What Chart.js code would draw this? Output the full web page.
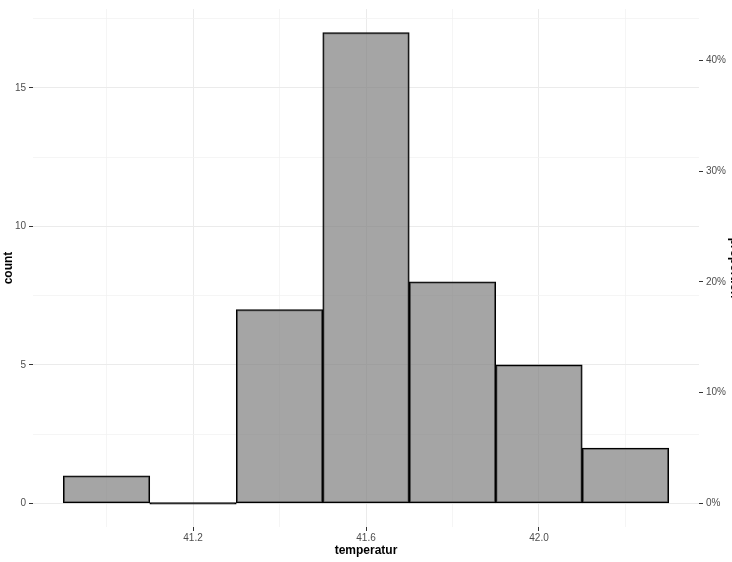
<!DOCTYPE html>
<html>
<head>
<meta charset="utf-8">
<script src="https://cdn.jsdelivr.net/npm/chart.js@4"></script>
<style>
  body { margin: 0; background: #fff; }
  #wrap { width: 732px; height: 562px; }
</style>
</head>
<body>
<div id="wrap"><canvas id="histChart" width="732" height="562"></canvas></div>
<script>
// histogram bins (binwidth 0.2) and counts
const binCenters = [41.0, 41.2, 41.4, 41.6, 41.8, 42.0, 42.2];
const counts = [1, 0, 7, 17, 8, 5, 2];
const total = counts.reduce((a, b) => a + b, 0); // 40

// axis breaks
const xMajor = [41.2, 41.6, 42.0];
const xMinor = [41.0, 41.4, 41.8, 42.2];
const countMajor = [0, 5, 10, 15];
const countMinor = [2.5, 7.5, 12.5, 17.5];
const propTicks = [0, 0.1, 0.2, 0.3, 0.4];

const xMin = 40.83, xMax = 42.37;
const yMin = -0.85, yMax = 17.85;

Chart.defaults.font.family = "'Liberation Sans', Arial, sans-serif";
Chart.defaults.font.size = 10;
Chart.defaults.color = '#4D4D4D';

const titleFont = { family: "'Liberation Sans', Arial, sans-serif", size: 12, weight: 'bold' };

function gridColor(isMajor) {
  return isMajor ? '#EBEBEB' : '#F3F3F3';
}

const ctx = document.getElementById('histChart').getContext('2d');
const histChart = new Chart(ctx, {
  type: 'bar',
  data: {
    datasets: [{
      data: binCenters.map((c, i) => ({ x: c, y: counts[i] })),
      backgroundColor: (c) => (c.raw && c.raw.y === 0) ? '#000000' : 'rgba(127,127,127,0.7)',
      borderColor: '#000000',
      borderWidth: 1.3,
      borderSkipped: false,
      minBarLength: 1.5,
      barPercentage: 1,
      categoryPercentage: 1,
      yAxisID: 'y'
    }]
  },
  options: {
    responsive: false,
    animation: false,
    layout: { padding: { top: 7, left: 0, right: 0, bottom: 0 } },
    plugins: { legend: { display: false }, tooltip: { enabled: false } },
    scales: {
      x: {
        type: 'linear',
        min: xMin,
        max: xMax,
        offset: false,
        afterBuildTicks: (scale) => {
          scale.ticks = xMinor.concat(xMajor).sort((a, b) => a - b).map(v => ({ value: v }));
        },
        afterFit: (scale) => { scale.height = 35; },
        ticks: {
          autoSkip: false,
          maxRotation: 0,
          padding: 1,
          callback: (v) => xMajor.includes(v) ? v.toFixed(1) : ''
        },
        grid: {
          offset: false,
          color: (c) => gridColor(c.tick && xMajor.includes(c.tick.value)),
          lineWidth: (c) => (c.tick && xMajor.includes(c.tick.value)) ? 1 : 0.8,
          tickColor: (c) => (c.tick && xMajor.includes(c.tick.value)) ? '#333333' : 'rgba(0,0,0,0)',
          tickLength: 4
        },
        border: { display: false },
        title: {
          display: true,
          text: 'temperatur',
          color: '#000000',
          font: titleFont,
          padding: { top: 0, bottom: 4 }
        }
      },
      y: {
        type: 'linear',
        position: 'left',
        min: yMin,
        max: yMax,
        afterBuildTicks: (scale) => {
          scale.ticks = countMajor.concat(countMinor).sort((a, b) => a - b).map(v => ({ value: v }));
        },
        afterFit: (scale) => { scale.width = 33; },
        ticks: {
          autoSkip: false,
          padding: 3,
          callback: (v) => countMajor.includes(v) ? String(v) : ''
        },
        grid: {
          color: (c) => gridColor(c.tick && countMajor.includes(c.tick.value)),
          lineWidth: (c) => (c.tick && countMajor.includes(c.tick.value)) ? 1 : 0.8,
          tickColor: (c) => (c.tick && countMajor.includes(c.tick.value)) ? '#333333' : 'rgba(0,0,0,0)',
          tickLength: 4
        },
        border: { display: false },
        title: {
          display: true,
          text: 'count',
          color: '#000000',
          font: titleFont,
          padding: { top: 1, bottom: 0 }
        }
      },
      y1: {
        type: 'linear',
        position: 'right',
        min: yMin / total,
        max: yMax / total,
        afterBuildTicks: (scale) => {
          scale.ticks = propTicks.map(v => ({ value: v }));
        },
        afterFit: (scale) => { scale.width = 33; },
        ticks: {
          autoSkip: false,
          padding: 3,
          callback: (v) => Math.round(v * 100) + '%'
        },
        grid: {
          drawOnChartArea: false,
          tickColor: '#333333',
          tickLength: 4
        },
        border: { display: false },
        title: {
          display: true,
          text: 'proportion',
          color: '#000000',
          font: titleFont,
          padding: { top: -10, bottom: 0 }
        }
      }
    }
  }
});
</script>
</body>
</html>
